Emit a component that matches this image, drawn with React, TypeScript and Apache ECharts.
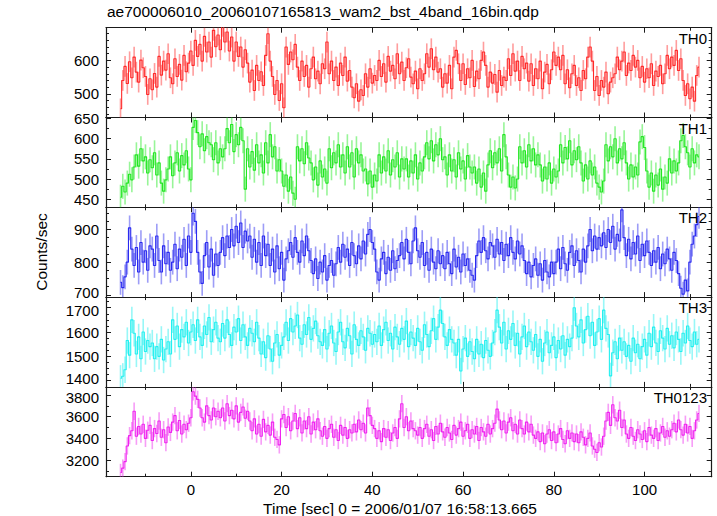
import React, { useEffect, useRef } from "react";
import * as echarts from "echarts";

// time grid of the light curves (sec from trigger), 0.5 s bins
const T0 = -15.5;
const DT = 0.5;

const TH0 = [
  455, 540, 582, 531, 596, 548, 610, 565, 535, 601, 578,
  552, 498, 545, 512, 561, 520,
  612, 556, 598, 571, 620, 548,
  530, 605, 552, 588, 541, 615, 566,
  592, 628, 585,
  660, 612, 648, 598, 672, 625, 655, 610,
  690, 641, 676, 632, 702, 655, 685, 628, 670,
  598, 655, 612, 640, 580, 632,
  592, 535, 571, 510, 585, 540, 566, 525,
  615, 680, 598,
  552, 498, 540, 480, 530, 458,
  640, 588, 625, 602, 648, 580,
  540, 598, 552, 585, 520, 575, 610, 545, 568, 530, 590,
  575, 655, 560,
  598, 540, 580, 525, 592, 555, 610, 538, 570,
  520, 488, 530, 478, 512, 495,
  560, 520, 575, 532, 555, 540,
  600, 552, 590, 535, 612, 568, 585, 545, 620, 560, 595, 540, 578, 605, 550,
  530, 568, 515, 575, 540, 560,
  620, 580, 635, 572, 610, 565,
  575, 520, 560, 532, 585, 515,
  610, 630, 590,
  540, 590, 528, 575, 548, 600, 522, 568, 545,
  600, 625, 585,
  520, 565, 532, 558, 505, 570, 525, 550, 540,
  605, 555, 620, 568, 598, 540, 612, 575, 592,
  538, 590, 525, 575, 545, 598, 515, 565, 588, 530, 572,
  625, 585, 610, 572, 615,
  530, 572, 518, 560, 585, 525, 548, 510, 570, 545,
  610, 640, 598,
  510, 552, 495, 540, 520, 565, 500, 535, 548,
  560, 610, 572, 598, 625, 555, 592, 570, 615, 580, 600, 548,
  582, 535, 575, 548, 590, 525, 568, 552, 585, 530, 560,
  615, 575, 610, 585, 630, 570, 605,
  540, 495, 530, 485, 520, 478,
  555, 580,
];

const TH1 = [
  455, 482, 468, 490,
  512, 498, 530,
  560, 532, 575, 545,
  555, 515, 548, 528, 565, 510, 540,
  490, 470, 498,
  525, 555, 508, 540,
  565, 520, 558, 535, 570, 525, 498,
  628, 645, 615,
  580, 612, 570, 605, 590,
  585, 548, 590, 540, 575, 555,
  575, 625, 590, 635, 568, 610, 585, 628, 595,
  475,
  575, 530, 568, 522, 585, 540, 560, 515,
  590, 540, 610, 555, 580, 520, 548,
  520, 482, 510, 470, 505, 465, 450,
  580, 545, 575, 538, 590, 552,
  540, 498, 530, 485, 545, 505, 525, 490,
  575, 528, 565, 540, 585, 530, 560,
  515, 580, 530, 565, 505, 575, 540, 560, 520,
  525, 488, 520, 480, 510, 495,
  560, 515, 555, 520, 570, 510, 548, 530, 565, 505, 550, 525,
  550, 505, 545, 515, 560, 500, 540, 520, 555,
  590, 550, 595, 545, 585, 560, 600, 548,
  555, 510, 560, 520, 548, 505, 565, 525, 545, 500, 558, 530, 515,
  530, 490, 525, 480, 515, 470, 535,
  570, 528, 565, 540, 575, 520, 610, 555,
  510, 480, 505, 478, 500,
  580, 540, 570, 530, 585, 545, 575, 535, 560,
  535, 495, 530, 500, 540, 490, 525, 505, 520,
  585, 540, 578, 550, 595, 535, 570, 548, 580,
  540, 495, 535, 500, 545, 510, 530, 490,
  480, 468, 495,
  585, 545, 580, 555, 600, 540, 575, 550, 590,
  540, 500, 535, 505, 530, 510,
  592, 605, 578,
  520, 480, 515, 470, 510, 485, 525, 475, 505, 490,
  550, 515, 545, 520, 540,
  595, 608, 580,
  565, 530, 575, 540, 560, 555,
];

const TH2 = [
  738, 722, 755,
  800, 905, 840,
  790, 845, 770, 860, 800, 835, 775, 850,
  840, 790, 880, 805, 770, 850, 795, 830, 775,
  800, 855, 780, 840, 815, 870, 790, 880, 830,
  950, 925,
  830, 770, 735, 820, 860, 785, 840, 760, 825, 790,
  830, 875, 820, 880, 845,
  900, 850, 910, 860, 920, 845, 895, 865, 880,
  815, 870, 800, 860, 790, 880, 820, 855,
  790, 840, 770, 850, 780, 830, 745, 810, 835,
  860, 815, 875, 830, 800, 865, 820, 880, 835, 805,
  765, 810, 750, 800, 770, 820, 745, 790, 805, 760, 795,
  845, 800, 855, 815, 840, 790, 860, 820, 795, 850, 810, 865, 825,
  885, 900, 860, 840,
  770, 745, 810, 830, 765, 815, 775, 835, 780, 805,
  820, 860, 810, 870, 830, 795, 865, 905, 835, 815, 860,
  790, 830, 775, 840, 800, 780, 835, 795, 820,
  780, 830, 795, 765, 840, 785, 815, 770, 825, 790, 810, 775, 760, 745,
  820, 865, 830, 875, 835, 810, 860, 850,
  815, 870, 825, 860, 805, 855, 820, 875, 830, 810, 865, 825, 850,
  805, 765, 800, 755, 790, 810, 760, 795, 745, 805, 770, 755, 800, 765,
  800, 840, 780, 845, 795, 775, 830, 850, 790, 835, 805, 770, 840, 800,
  850, 900, 835, 880, 840, 875, 850,
  890, 845, 900, 860, 910, 840, 885, 865, 960, 875,
  820, 870, 810, 860, 825, 880, 805, 855, 820, 865, 830,
  790, 835, 800, 845, 780, 825, 795, 840, 810, 775, 830, 805,
  765, 720, 702, 745, 712,
  800, 855, 880, 915, 940,
];

const TH3 = [
  1410, 1418, 1445,
  1565, 1505, 1650, 1595,
  1510, 1580, 1490, 1600, 1520, 1565, 1540,
  1555, 1490, 1540, 1500, 1570, 1485, 1530, 1560, 1510,
  1650, 1570, 1625, 1540, 1610, 1580, 1640, 1555, 1600,
  1630, 1565, 1650, 1580, 1545, 1625, 1590, 1660, 1560, 1610, 1640, 1575,
  1560, 1635, 1575, 1650, 1590, 1545, 1620, 1600, 1655, 1565, 1630, 1580, 1545, 1615, 1595, 1560, 1640,
  1575, 1510, 1560, 1495, 1585, 1530, 1480, 1555, 1590, 1505, 1545,
  1580, 1640, 1565, 1655, 1600, 1625, 1670, 1575, 1550, 1630, 1590, 1660, 1570, 1615, 1645, 1585, 1560,
  1545, 1610, 1530, 1595, 1625, 1555, 1520, 1600, 1640, 1560, 1535, 1615, 1585, 1510, 1630, 1570, 1545, 1605, 1580, 1525, 1615, 1595, 1550, 1590,
  1560, 1625, 1545, 1610, 1640, 1565, 1595, 1530, 1620, 1580, 1550, 1615, 1570, 1645, 1540, 1600, 1575,
  1545, 1615, 1560, 1525, 1630, 1590, 1540, 1605, 1655, 1570, 1620, 1690, 1635, 1580, 1545, 1610, 1570,
  1555, 1505, 1570, 1440, 1530, 1575, 1500, 1560, 1520, 1490, 1570, 1510, 1550, 1495, 1565, 1525, 1500, 1555,
  1600, 1690, 1620, 1555, 1640, 1530, 1605, 1570, 1635, 1545, 1595, 1510, 1580, 1625, 1540, 1600, 1560,
  1525, 1590, 1500, 1570, 1480, 1555, 1600, 1515, 1545, 1580, 1495, 1565, 1530, 1585, 1505, 1570, 1540,
  1575, 1700, 1625, 1580, 1650, 1555, 1610, 1665, 1585, 1640, 1545, 1600, 1655, 1570, 1690, 1615, 1590,
  1420, 1515, 1560, 1490, 1575, 1525,
  1560, 1500, 1545, 1480, 1575, 1515, 1550, 1490, 1540, 1570, 1505,
  1595, 1540, 1620, 1555, 1520, 1605, 1575, 1530, 1615, 1550, 1585, 1535, 1600, 1570, 1520, 1595, 1555, 1625, 1565, 1540, 1600, 1550, 1570,
];

const TH0123 = [
  3085, 3125, 3185,
  3330, 3425,
  3470, 3650,
  3420, 3510, 3440, 3530, 3400, 3475, 3520, 3380, 3490, 3445, 3560, 3410, 3480, 3360, 3505, 3455,
  3550, 3610, 3470, 3565, 3440, 3530, 3480, 3540, 3590,
  3830, 3790, 3760,
  3680, 3590, 3550, 3700, 3610, 3570, 3680, 3600, 3650,
  3590, 3680, 3560, 3720, 3610, 3660, 3580, 3700, 3550, 3640, 3690, 3585, 3650,
  3560, 3470, 3580, 3440, 3530, 3420, 3575, 3460, 3520, 3430, 3550, 3410, 3390, 3340,
  3580, 3620, 3500, 3600, 3470, 3560, 3630, 3490, 3590, 3450, 3560, 3490, 3600, 3440, 3550, 3480, 3580, 3470,
  3420, 3510, 3400, 3490, 3530, 3410, 3480, 3380, 3520, 3430, 3500, 3400, 3480, 3450,
  3530, 3460, 3570, 3480, 3540, 3450, 3680, 3610, 3520, 3490,
  3400, 3470, 3370, 3490, 3410, 3480, 3380, 3450, 3500, 3400,
  3580, 3720, 3500, 3600, 3470, 3560, 3490, 3470,
  3430, 3500, 3400, 3490, 3530, 3420, 3480, 3380, 3510, 3440, 3540, 3460, 3410, 3500, 3450, 3390, 3520,
  3430, 3490, 3550, 3420, 3470, 3530, 3400, 3480, 3440, 3510, 3380, 3500, 3460, 3420, 3530, 3440, 3490,
  3540, 3670, 3570, 3480, 3560, 3450, 3550, 3590, 3470, 3530, 3440, 3570, 3490, 3440, 3550, 3460, 3530, 3430,
  3400, 3460, 3370, 3450, 3350, 3440, 3480, 3380, 3460, 3360, 3440, 3490, 3390, 3350, 3470, 3400,
  3450, 3370, 3440, 3360, 3460, 3410, 3340, 3400, 3450, 3330, 3300, 3270, 3360, 3320, 3420,
  3560, 3640, 3520, 3710, 3590, 3560, 3660, 3500, 3570,
  3440, 3400, 3500, 3420, 3380, 3480, 3440, 3390, 3470, 3370, 3500, 3430, 3400, 3490, 3380, 3450, 3510, 3410, 3470, 3420, 3480,
  3540, 3460, 3570, 3480, 3430, 3530, 3450, 3510, 3400, 3470, 3570, 3630,
];

const PANEL_NAMES = ["TH0", "TH1", "TH2", "TH3", "TH0123"];
const PANEL_DATA = [TH0, TH1, TH2, TH3, TH0123];
const PANEL_ERR = [31, 31, 38, 54, 80];
const Y_MIN = [429, 430, 693, 1374.5, 3046];
const Y_MAX = [698, 652.5, 968, 1743.6, 3875];
const Y_STEP = [100, 50, 100, 100, 200];
const Y_MINOR = [5, 2, 4, 4, 2];
// nudge of crowded edge tick labels (top label down / bottom label up)
const NUDGE_TOP = [false, false, false, true, true];
const NUDGE_BOTTOM = [false, false, true, true, false];
const X_MIN = -18.7;
const X_MAX = 114.8;
const X_STEP = 20;

const LINE_COLORS = ["#ff2a2a", "#22e622", "#2a2af0", "#22f0f0", "#f022f0"];
const BAR_COLORS = [
  "rgba(255,60,60,0.5)",
  "rgba(50,235,50,0.5)",
  "rgba(60,60,240,0.5)",
  "rgba(50,240,240,0.5)",
  "rgba(240,60,240,0.5)",
];

const TITLE = "ae700006010_20060107165813_wam2_bst_4band_16bin.qdp";
const X_TITLE = "Time [sec] 0 = 2006/01/07 16:58:13.665";
const Y_TITLE = "Counts/sec";

export default function App() {
  const ref = useRef<HTMLDivElement>(null);
  useEffect(() => {
    if (!ref.current) return;
    const chart = echarts.init(ref.current, null, { renderer: "svg" });
    const font = "'Liberation Sans', Arial, Helvetica, sans-serif";
    const left = 106;
    const right = 711.7;
    const top = 27.7;
    const bottom = 476.7;
    const ph = (bottom - top) / 5;
    const frame = "#1a1a1a";
    const labelFont = { fontSize: 15, fontFamily: font, color: "#000" };

    const grids: any[] = [];
    const xAxes: any[] = [];
    const yAxes: any[] = [];
    const series: any[] = [];
    const graphics: any[] = [];

    PANEL_NAMES.forEach((name, p) => {
      const gt = top + ph * p;
      grids.push({ left, top: gt, width: right - left, height: ph });

      const xBase = {
        type: "value",
        gridIndex: p,
        min: X_MIN,
        max: X_MAX,
        splitNumber: 7,
        minInterval: X_STEP,
        maxInterval: X_STEP,
        axisLine: { show: true, onZero: false, lineStyle: { color: frame, width: 1.2 } },
        axisTick: { show: true, inside: true, length: 5, lineStyle: { color: frame } },
        minorTick: { show: true, splitNumber: 2, length: 3, lineStyle: { color: frame } },
        splitLine: { show: false },
      };
      xAxes.push({
        ...xBase,
        position: "bottom",
        axisLabel: {
          show: p === 4,
          showMinLabel: false,
          showMaxLabel: false,
          formatter: (v: number) => String(v),
          margin: 6,
          lineHeight: 14,
          ...labelFont,
        },
      });
      xAxes.push({ ...xBase, position: "top", axisLabel: { show: false } });

      const topMajor = Math.floor(Y_MAX[p] / Y_STEP[p]) * Y_STEP[p];
      const botMajor = Math.ceil(Y_MIN[p] / Y_STEP[p]) * Y_STEP[p];
      const yBase = {
        type: "value",
        gridIndex: p,
        min: Y_MIN[p],
        max: Y_MAX[p],
        splitNumber: 5,
        minInterval: Y_STEP[p],
        maxInterval: Y_STEP[p],
        axisLine: { show: true, onZero: false, lineStyle: { color: frame, width: 1.2 } },
        axisTick: { show: true, inside: true, length: 5, lineStyle: { color: frame } },
        minorTick: { show: true, splitNumber: Y_MINOR[p], length: 3, lineStyle: { color: frame } },
        splitLine: { show: false },
      };
      yAxes.push({
        ...yBase,
        position: "left",
        axisLabel: {
          show: true,
          showMinLabel: false,
          showMaxLabel: false,
          formatter: (v: number) => {
            if (NUDGE_TOP[p] && v === topMajor) return `{dn|${v}}`;
            if (NUDGE_BOTTOM[p] && v === botMajor) return `{up|${v}}`;
            return `{n|${v}}`;
          },
          margin: 7,
          lineHeight: 12,
          ...labelFont,
          rich: {
            n: { ...labelFont, lineHeight: 12 },
            dn: { ...labelFont, lineHeight: 12, padding: [5, 0, 0, 0] },
            up: { ...labelFont, lineHeight: 12, padding: [0, 0, 5, 0] },
          },
        },
      });
      yAxes.push({ ...yBase, position: "right", axisLabel: { show: false } });

      const vals = PANEL_DATA[p];
      const err = PANEL_ERR[p];
      const barColor = BAR_COLORS[p];
      series.push({
        type: "custom",
        xAxisIndex: 2 * p,
        yAxisIndex: 2 * p,
        encode: { x: 0, y: 1 },
        data: vals.map((v, i) => [T0 + i * DT, v, err]),
        renderItem: (params: any, api: any) => {
          const t = api.value(0);
          const v = api.value(1);
          const e = api.value(2);
          const a = api.coord([t, v - e]);
          const b = api.coord([t, v + e]);
          const cs = params.coordSys;
          const clamp = (y: number) => Math.min(Math.max(y, cs.y), cs.y + cs.height);
          return {
            type: "line",
            shape: { x1: a[0], y1: clamp(a[1]), x2: b[0], y2: clamp(b[1]) },
            style: { stroke: barColor, lineWidth: 1.6 },
            silent: true,
          };
        },
        z: 2,
      });
      series.push({
        type: "line",
        xAxisIndex: 2 * p,
        yAxisIndex: 2 * p,
        step: "middle",
        symbol: "none",
        showSymbol: false,
        clip: true,
        data: vals.map((v, i) => [T0 + i * DT, v]),
        lineStyle: { color: LINE_COLORS[p], width: 1.1 },
        z: 3,
      });

      graphics.push({
        type: "text",
        x: 707,
        y: gt + 3,
        style: {
          text: name,
          fill: "#000",
          font: `15px ${font}`,
          textAlign: "right",
          textVerticalAlign: "top",
        },
        z: 10,
      });
    });

    graphics.push({
      type: "text",
      x: 107,
      y: 3,
      style: { text: TITLE, fill: "#000", font: `15.5px ${font}`, textAlign: "left", textVerticalAlign: "top" },
    });
    graphics.push({
      type: "text",
      x: 400,
      y: 508,
      style: { text: X_TITLE, fill: "#000", font: `15.5px ${font}`, textAlign: "center", textVerticalAlign: "middle" },
    });
    graphics.push({
      type: "text",
      x: 41,
      y: 252,
      rotation: Math.PI / 2,
      style: { text: Y_TITLE, fill: "#000", font: `15.5px ${font}`, textAlign: "center", textVerticalAlign: "middle" },
    });

    chart.setOption({
      animation: false,
      backgroundColor: "#fff",
      grid: grids,
      xAxis: xAxes,
      yAxis: yAxes,
      series,
      graphic: graphics,
    });
    return () => chart.dispose();
  }, []);
  return (
    <div
      ref={ref}
      style={{ position: "fixed", left: 0, top: 0, width: 717, height: 516, background: "#fff" }}
    />
  );
}
